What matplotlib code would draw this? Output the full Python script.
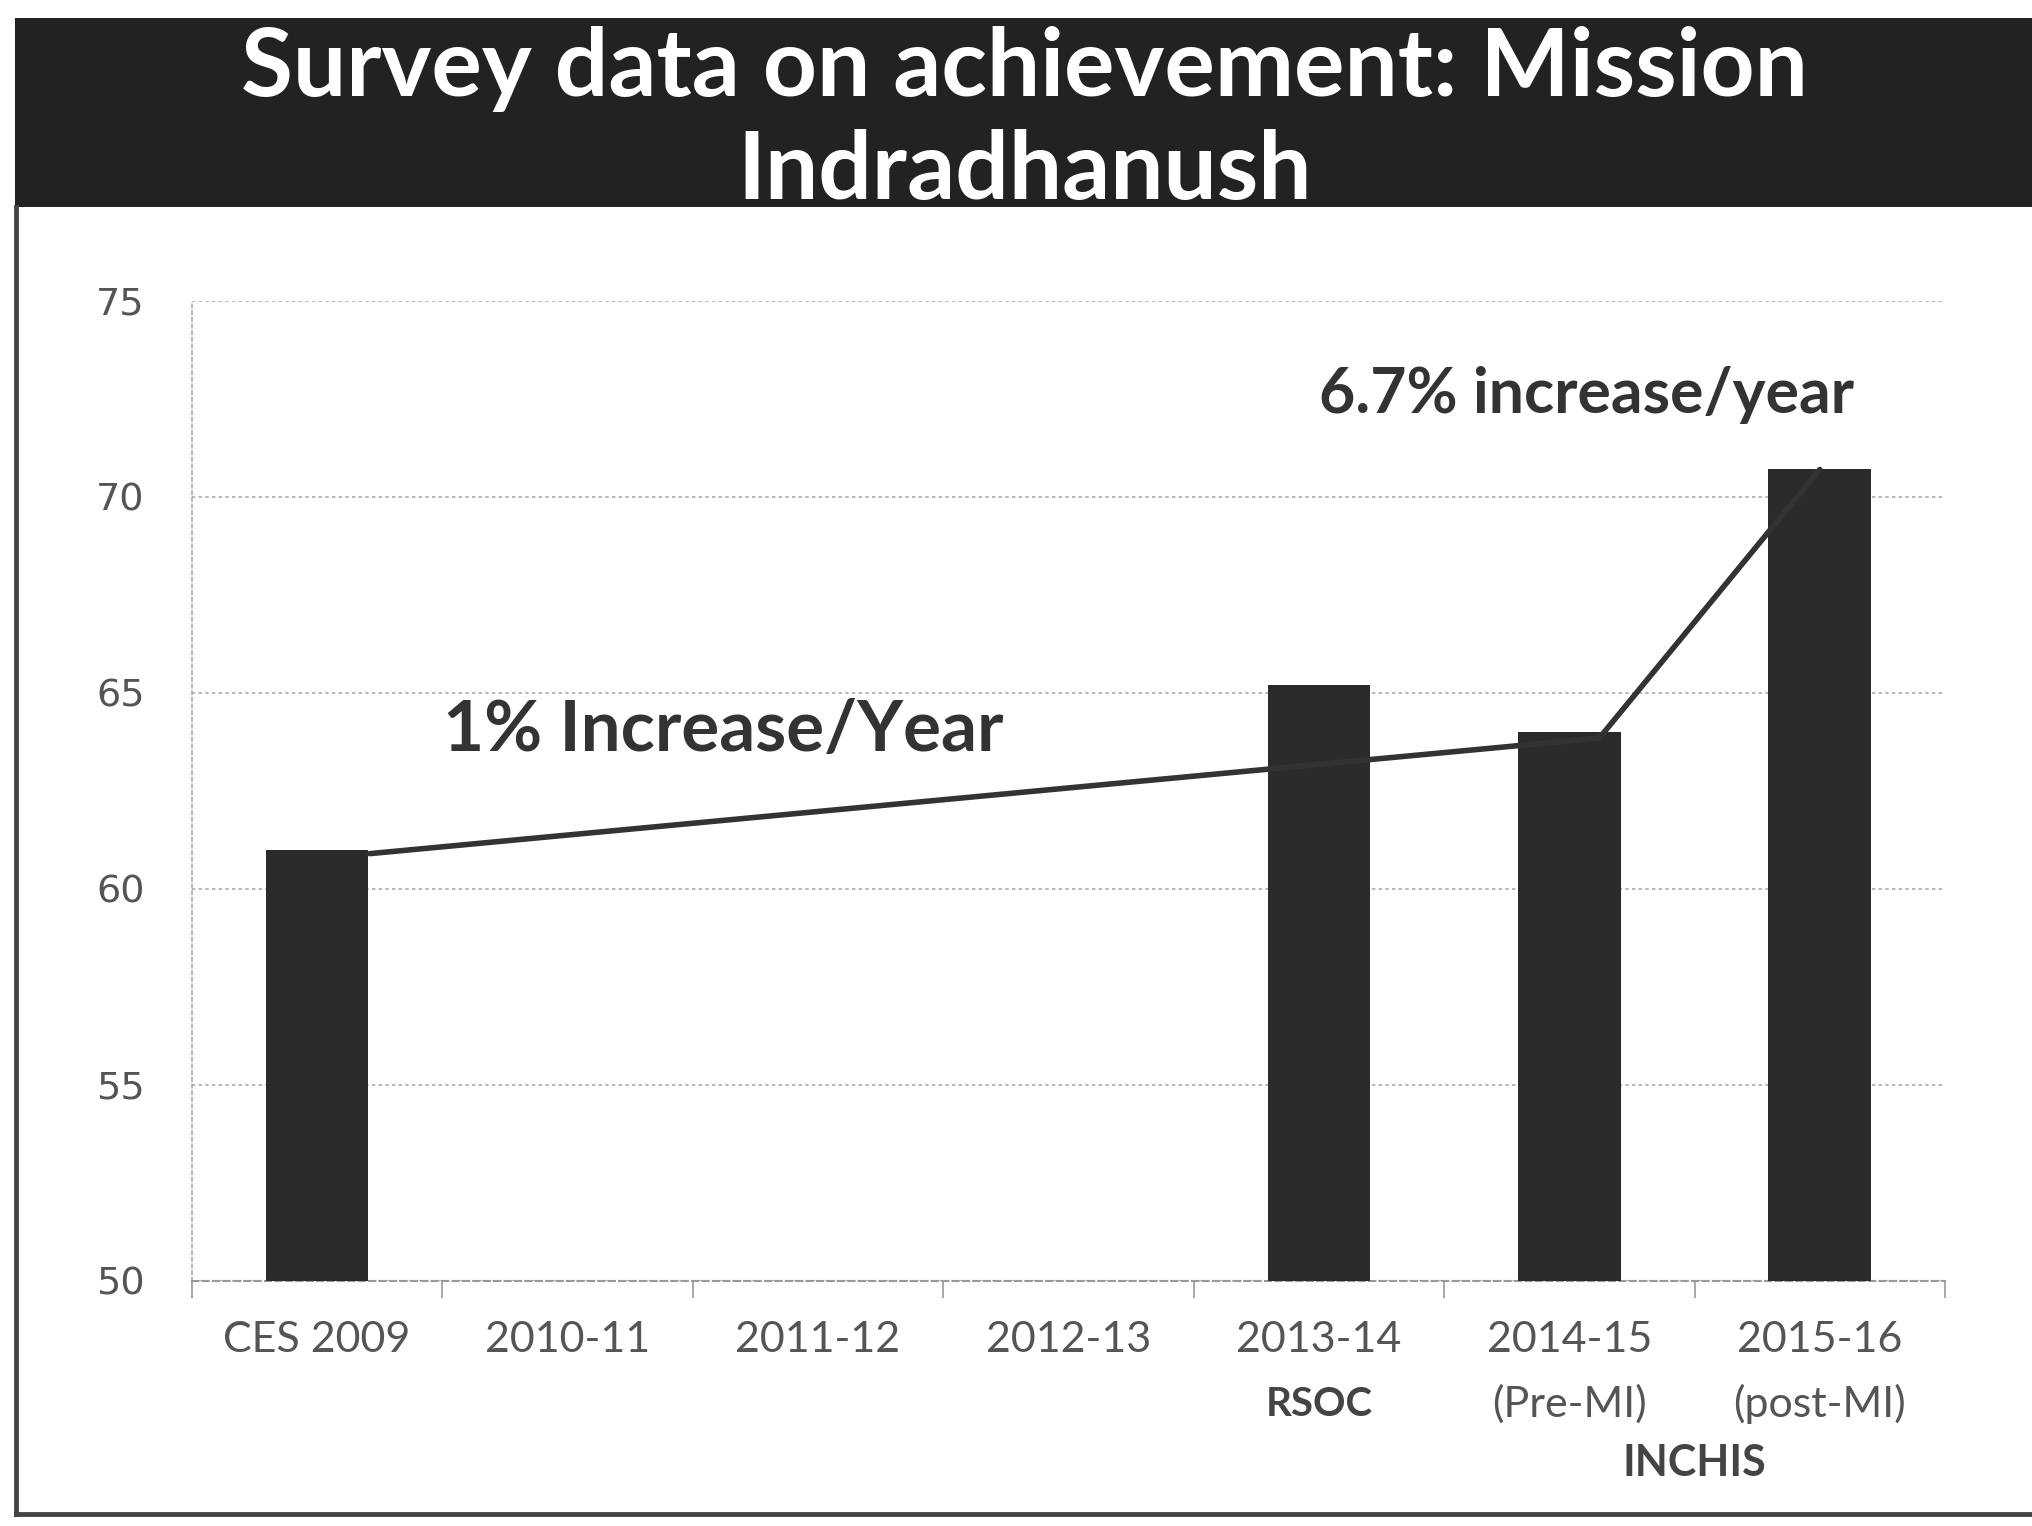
import matplotlib
matplotlib.use("Agg")
import matplotlib.pyplot as plt
from matplotlib.patches import Rectangle
from matplotlib.lines import Line2D
from matplotlib.transforms import blended_transform_factory

categories = ["CES 2009", "2010-11", "2011-12", "2012-13", "2013-14", "2014-15", "2015-16"]
values = [61.0, None, None, None, 65.2, 64.0, 70.7]
sub_labels = ["", "", "", "", "RSOC", "(Pre-MI)", "(post-MI)"]
sub_bold = [False, False, False, False, True, False, False]
group_label = "INCHIS"
trend_x = [0.21, 5.12, 6.0]
trend_y = [60.9, 63.85, 70.7]
yticks = [50, 55, 60, 65, 70, 75]
title_lines = ["Survey data on achievement: Mission", "Indradhanush"]
note1 = "1% Increase/Year"
note2 = "6.7% increase/year"

FONT = ["Lato", "DejaVu Sans"]
W, H, DPI = 2033, 1526, 100
fig = plt.figure(figsize=(W / DPI, H / DPI), dpi=DPI, facecolor="white")

# slide title bar
fig.patches.append(Rectangle((15 / W, 1 - 207 / H), 1 - 15 / W, 189 / H,
                             transform=fig.transFigure, facecolor="#222222",
                             edgecolor="none", zorder=0))
fig.text(0.504, 0.955, title_lines[0], color="white", fontsize=68,
         fontweight="bold", family=FONT, ha="center", va="center")
fig.text(0.504, 0.887, title_lines[1], color="white", fontsize=68,
         fontweight="bold", family=FONT, ha="center", va="center")
# slide border lines
fig.add_artist(Line2D([16 / W, 16 / W], [1 - 207 / H, 1 - 1514 / H],
                      transform=fig.transFigure, color="#444444", lw=3.5))
fig.add_artist(Line2D([16 / W, 1.0], [1 - 1514 / H, 1 - 1514 / H],
                      transform=fig.transFigure, color="#444444", lw=3.5))

ax = fig.add_axes([0.0944, 0.1606, 0.9567 - 0.0944, 0.8028 - 0.1606])
ax.set_facecolor("white")
xs = list(range(len(categories)))
for x, v in zip(xs, values):
    if v is not None:
        ax.bar(x, v - 50, bottom=50, width=0.41, color="#2b2b2b", zorder=3)
ax.plot(trend_x, trend_y, color="#333333", lw=4, zorder=4, solid_capstyle="round")

ax.set_xlim(-0.5, len(categories) - 0.5)
ax.set_ylim(50, 75)
ax.set_yticks(yticks)
ax.set_yticklabels([str(t) for t in yticks], fontsize=27.5, color="#555555",
                   family=["DejaVu Sans"])
ax.tick_params(axis="y", length=0, pad=34)
ax.yaxis.grid(True, linestyle=(0, (2, 2)), color="#aaaaaa", lw=1.2, zorder=0)
ax.set_xticks(xs)
ax.set_xticklabels(categories, fontsize=31, color="#555555", family=FONT)
ax.tick_params(axis="x", length=0, pad=29)
ax.set_xticks([x - 0.5 for x in range(len(categories) + 1)], minor=True)
ax.tick_params(axis="x", which="minor", length=12, color="#999999", width=1.2)
for s in ["top", "right"]:
    ax.spines[s].set_visible(False)
ax.spines["left"].set_linestyle((0, (2, 2)))
ax.spines["left"].set_color("#aaaaaa")
ax.spines["left"].set_linewidth(1.2)
ax.spines["bottom"].set_linestyle((0, (3, 2)))
ax.spines["bottom"].set_color("#999999")
ax.spines["bottom"].set_linewidth(1.5)

tr = blended_transform_factory(ax.transData, ax.transAxes)
for x, lab, b in zip(xs, sub_labels, sub_bold):
    if lab:
        ax.text(x, -0.126, lab, transform=tr, ha="center", va="center",
                fontsize=29 if b else 31, fontweight="bold" if b else "normal",
                color="#444444" if b else "#555555", family=FONT)
ax.text(5.5, -0.186, group_label, transform=tr, ha="center", va="center",
        fontsize=31, fontweight="bold", color="#444444", family=FONT)

ax.text(1.62, 64.05, note1, ha="center", va="center", fontsize=51,
        fontweight="bold", color="#333333", family=FONT)
ax.text(5.07, 72.6, note2, ha="center", va="center", fontsize=45,
        fontweight="bold", color="#333333", family=FONT)

fig.savefig("out.png", dpi=DPI, facecolor="white")
